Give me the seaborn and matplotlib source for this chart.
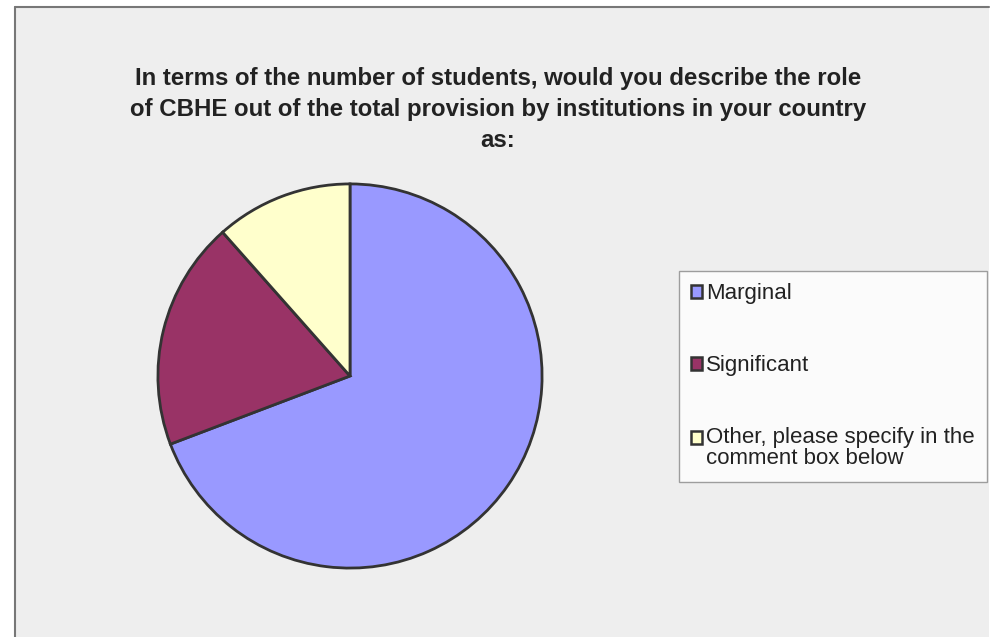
import matplotlib
matplotlib.use("Agg")
import matplotlib.pyplot as plt
from matplotlib.legend_handler import HandlerPatch
import seaborn as sns

# Survey responses
categories = ["Marginal", "Significant", "Other, please specify in the\ncomment box below"]
counts = [18, 5, 3]
colors = ["#9999FF", "#993366", "#FFFFCC"]
title = ("In terms of the number of students, would you describe the role\n"
         "of CBHE out of the total provision by institutions in your country\n"
         "as:")

sns.set_style("white")
plt.rcParams["font.family"] = ["Liberation Sans", "DejaVu Sans"]

W, H = 990, 637
fig = plt.figure(figsize=(W / 100, H / 100), dpi=100)
fig.patch.set_facecolor("white")

# chart area background with a border on the top and left
bg = plt.Rectangle((15 / W, 0), 1 - 16 / W, 1 - 7 / H, transform=fig.transFigure,
                   facecolor="#EEEEEE", edgecolor="none", zorder=-5)
fig.patches.append(bg)
fig.add_artist(plt.Line2D([15 / W, 15 / W], [0, 1 - 7 / H], color="#777777", lw=1.5,
                          transform=fig.transFigure))
fig.add_artist(plt.Line2D([15 / W, 1 - 1 / W], [1 - 7 / H, 1 - 7 / H], color="#777777",
                          lw=1.5, transform=fig.transFigure))

cx, cy, r = 350, 376, 194
ax = fig.add_axes([(cx - r) / W, (H - cy - r) / H, 2 * r / W, 2 * r / H])
ax.set_facecolor("none")
ax.set_zorder(2)
wedges, _ = ax.pie(counts, colors=colors, startangle=90, counterclock=False,
                   radius=1, wedgeprops=dict(edgecolor="#333333", linewidth=2))
ax.set_xlim(-1.01, 1.01)
ax.set_ylim(-1.01, 1.01)
ax.set_aspect("equal")
ax.axis("off")

fig.text(498 / W, 1 - 67 / H, title, ha="center", va="top", fontsize=17.3,
         fontweight="bold", color="#222222", linespacing=1.45)


def top_line_square(legend, orig_handle, xdescent, ydescent, width, height, fontsize):
    # keep the key beside the first line of a two-line label
    return plt.Rectangle((-xdescent, -ydescent + 0.5 * fontsize), width, height)


leg = fig.legend(wedges, categories, loc="upper left",
                 bbox_to_anchor=(679 / W, 1 - 271 / H), bbox_transform=fig.transFigure,
                 borderaxespad=0, frameon=True, fancybox=False, fontsize=16,
                 handlelength=0.5, handleheight=0.5, handletextpad=0.15,
                 labelspacing=2.3, borderpad=0.55, labelcolor="#222222",
                 handler_map={wedges[2]: HandlerPatch(patch_func=top_line_square)})
leg.set_zorder(3)
leg.get_frame().set_edgecolor("#888888")
leg.get_frame().set_linewidth(1)
for h in leg.legend_handles:
    h.set_linewidth(1.8)
    h.set_edgecolor("#333333")
for t in leg.get_texts():
    t.set_linespacing(1.0)

fig.savefig("out.png", dpi=100, facecolor=fig.get_facecolor())
